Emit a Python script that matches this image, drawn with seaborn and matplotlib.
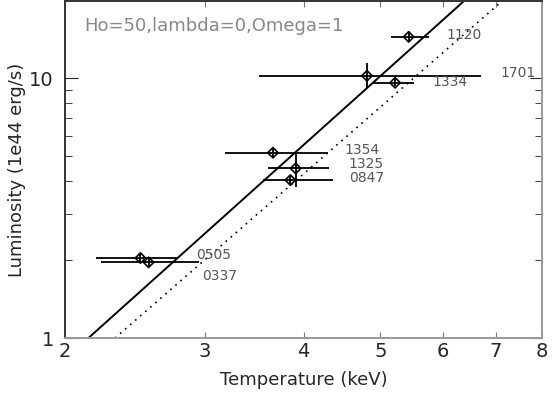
import numpy as np
import pandas as pd
import matplotlib
matplotlib.use('Agg')
import matplotlib.pyplot as plt
import matplotlib.ticker as mticker
import seaborn as sns

# cluster data
clusters = ['1120', '1701', '1334', '1354', '1325', '0847', '0505', '0337']
temp = [5.43, 4.81, 5.22, 3.66, 3.91, 3.85, 2.49, 2.55]
temp_lo = [5.16, 3.51, 4.90, 3.18, 3.61, 3.56, 2.19, 2.22]
temp_hi = [5.76, 6.71, 5.52, 4.30, 4.31, 4.36, 2.77, 2.95]
lum = [14.4, 10.2, 9.59, 5.16, 4.49, 4.05, 2.03, 1.955]
lum_lo = [13.9, 9.13, 9.30, 4.98, 3.80, 3.88, 1.96, 1.89]
lum_hi = [14.9, 11.39, 9.90, 5.35, 5.16, 4.20, 2.10, 2.02]

# label anchors (data coords)
lab_T = [6.06, 7.08, 5.82, 4.51, 4.56, 4.57, 2.93, 2.98]
lab_L = [14.6, 10.45, 9.68, 5.28, 4.67, 4.12, 2.09, 1.73]

# relations (endpoints inside frame)
fit_T = [2.141, 6.38]
fit_L = [1.0, 19.8]
alt_T = [2.313, 7.13]
alt_L = [1.0, 19.8]

x_ticks = [2, 3, 4, 5, 6, 7, 8]

df = pd.DataFrame({'cluster': clusters, 'T': temp, 'L': lum})

sns.set_style('ticks')
plt.rcParams['font.family'] = ['DejaVu Sans']

fig = plt.figure(figsize=(5.54, 3.97), dpi=100)
ax = fig.add_axes([65 / 554, 59 / 397, 477 / 554, 337 / 397])

sns.lineplot(x=fit_T, y=fit_L, ax=ax, color='black', linewidth=1.4)
sns.lineplot(x=alt_T, y=alt_L, ax=ax, color='black', linewidth=1.2, linestyle=(0, (1, 3)))

T = np.array(temp)
L = np.array(lum)
xerr = [T - np.array(temp_lo), np.array(temp_hi) - T]
yerr = [L - np.array(lum_lo), np.array(lum_hi) - L]
ax.errorbar(T, L, xerr=xerr, yerr=yerr, fmt='none', ecolor='black', elinewidth=1.3, capsize=0)
sns.scatterplot(data=df, x='T', y='L', ax=ax, marker='D', s=28, facecolors='none',
                edgecolor='black', linewidth=1.2, zorder=5)

for name, tx, ly in zip(clusters, lab_T, lab_L):
    ax.text(tx, ly, name, fontsize=10, color='#555555', va='center', ha='left')

ax.text(0.04, 0.925, 'Ho=50,lambda=0,Omega=1', transform=ax.transAxes,
        fontsize=13, color='#888888', va='center', ha='left')

ax.set_xscale('log')
ax.set_yscale('log')
ax.set_xlim(2, 8)
ax.set_ylim(1, 19.78)

ax.xaxis.set_major_locator(mticker.FixedLocator(x_ticks))
ax.xaxis.set_major_formatter(mticker.FixedFormatter([str(v) for v in x_ticks]))
ax.xaxis.set_minor_locator(mticker.NullLocator())
ax.yaxis.set_major_locator(mticker.FixedLocator([1, 10]))
ax.yaxis.set_major_formatter(mticker.FixedFormatter(['1', '10']))
ax.yaxis.set_minor_locator(mticker.LogLocator(subs=np.arange(2, 10)))
ax.yaxis.set_minor_formatter(mticker.NullFormatter())

ax.tick_params(axis='x', which='major', direction='in', length=4, top=True, labelsize=14, pad=3, color='#777777')
ax.tick_params(axis='y', which='major', direction='in', length=9, right=True, labelsize=14, pad=8)
ax.tick_params(axis='y', which='minor', direction='in', length=5, right=True)

ax.set_xlabel('Temperature (keV)', fontsize=13, labelpad=7)
ax.set_ylabel('Luminosity (1e44 erg/s)', fontsize=13, labelpad=2)

for side in ['left', 'top']:
    ax.spines[side].set_color('#333333')
for side in ['bottom', 'right']:
    ax.spines[side].set_color('#999999')
for s in ax.spines.values():
    s.set_linewidth(1.4)

fig.savefig('out.png', dpi=100)
